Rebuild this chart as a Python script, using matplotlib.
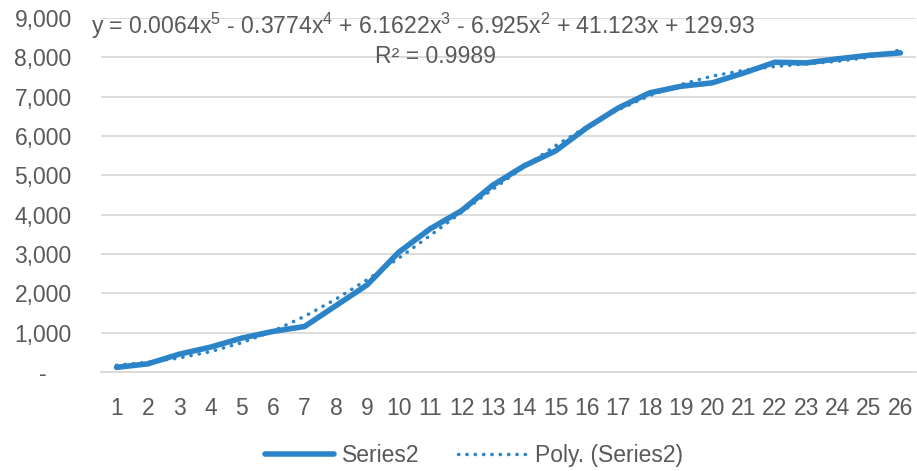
import numpy as np
import matplotlib.pyplot as plt

plt.rcParams['font.family'] = ['Liberation Sans', 'DejaVu Sans']
plt.rcParams['mathtext.fontset'] = 'custom'
plt.rcParams['mathtext.rm'] = 'Liberation Sans'

# data
days = list(range(1, 27))
series2 = [120, 210, 455, 635, 865, 1035, 1160, 1690, 2220, 3045, 3640, 4100, 4750,
           5240, 5620, 6210, 6710, 7095, 7262, 7350, 7600, 7873, 7857, 7960, 8050, 8112]
yticks = [0, 1000, 2000, 3000, 4000, 5000, 6000, 7000, 8000, 9000]
eq_text = 'y = 0.0064x$^{5}$ - 0.3774x$^{4}$ + 6.1622x$^{3}$ - 6.925x$^{2}$ + 41.123x + 129.93'
r2_text = 'R² = 0.9989'

blue = '#2b84c8'
grey = '#595959'

fig = plt.figure(figsize=(9.17, 4.71), dpi=100)
ax = fig.add_axes([0.110, 0.210, 0.889, 0.752])

x = np.array(days)
coef = np.polyfit(x, series2, 5)
ax.plot(x, series2, color=blue, lw=4, solid_capstyle='round', label='Series2', zorder=3)
ax.plot(x, np.polyval(coef, x), color=blue, lw=2.5, ls=(0, (0.1, 2.3)),
        dash_capstyle='round', label='Poly. (Series2)', zorder=4)

ax.set_xlim(0.5, 26.5)
ax.set_ylim(0, 9000)
ax.set_xticks(days)
ax.set_xticklabels([str(d) for d in days])
ax.set_yticks(yticks)
ax.set_yticklabels(['-    ' if v == 0 else f'{v:,}' for v in yticks])
ax.tick_params(length=0, labelsize=16.5, colors=grey)
ax.tick_params(axis='x', pad=18)
ax.tick_params(axis='y', pad=21)
ax.grid(axis='y', color='#d9d9d9', lw=1.3)
ax.set_axisbelow(True)
for s in ['top', 'right', 'left']:
    ax.spines[s].set_visible(False)
ax.spines['bottom'].set_color('#d9d9d9')
ax.spines['bottom'].set_linewidth(1.3)

ax.text(0.395, 0.977, eq_text, transform=ax.transAxes, ha='center', va='center',
        fontsize=16.6, color=grey)
ax.text(0.41, 0.892, r2_text, transform=ax.transAxes, ha='center', va='center',
        fontsize=16.6, color=grey)

leg = fig.legend(loc='lower center', bbox_to_anchor=(0.517, -0.035), ncol=2, frameon=False,
                 fontsize=16.5, handlelength=3.0, columnspacing=1.7, handletextpad=0.35)
for t in leg.get_texts():
    t.set_color(grey)

fig.savefig('out.png', dpi=100)
